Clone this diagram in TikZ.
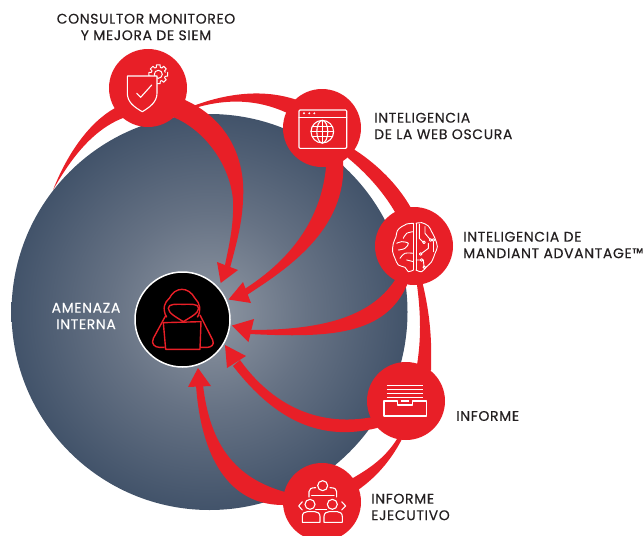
\documentclass[tikz,border=0pt]{standalone}
\usepackage{fontspec}
\setmainfont{Poppins}[FakeBold=0.35,LetterSpace=4.5]
\usetikzlibrary{calc}
\definecolor{brandred}{HTML}{E81F27}
\definecolor{inkdark}{HTML}{231F20}
\definecolor{sphA}{HTML}{8F97A3}
\definecolor{sphB}{HTML}{667284}
\definecolor{sphC}{HTML}{42536A}
\pgfdeclareradialshading{sphereshade}{\pgfpoint{0bp}{0bp}}{color(0bp)=(sphA); color(12.5bp)=(sphB); color(25bp)=(sphC); color(50bp)=(sphC)}
\tikzset{
  hub/.style={circle,fill=brandred,minimum size=78pt,inner sep=0pt},
  band/.style={fill=brandred},
  head/.style={fill=brandred},
  icon/.style={draw=white,line width=1.1pt,line join=round,line cap=round},
  hack/.style={draw=brandred,line width=1.4pt,line join=round},
  lbl/.style={inner sep=0pt,text=inkdark,font=\fontsize{14}{16.5}\selectfont},
  sm/.style={smooth,tension=0.6}
}
\begin{document}
\begin{tikzpicture}[x=1pt,y=-1pt]
\useasboundingbox (0,0) rectangle (644,535);
\clip (0,0) rectangle (644,535);
% sphere
\shade[shading=sphereshade] (209.5,312) circle[radius=198];
% hubs
\node[hub] (siem) at (148,88) {};
\node[hub] (web) at (322,128) {};
\node[hub] (brain) at (414,246) {};
\node[hub] (report) at (406,401) {};
\node[hub] (exec) at (322,502) {};
\node[circle,fill=black,draw=white,line width=1.5pt,minimum size=95pt,inner sep=0pt] (core) at (182.5,319.5) {};
% ring crescents
\fill[band] (siem.center) -- (115,108) .. controls (90,122) and (68,152) .. (53,190) .. controls (70,160) and (92,130) .. (123,118) -- cycle;
\fill[band] (siem.center) -- (193,106) .. controls (225,94) and (262,88) .. (297,100) -- (web.center) -- (285,112) .. controls (258,100) and (228,98) .. (195,108) -- cycle;
\fill[band] (web.center) -- (355,150) .. controls (378,165) and (398,185) .. (411,208) -- (brain.center) -- (395,212) .. controls (382,190) and (365,172) .. (348,158) -- cycle;
\fill[band] (brain.center) -- (423,285) .. controls (430,315) and (432,340) .. (431,370) -- (report.center) -- (417,365) .. controls (421,340) and (421,315) .. (417,285) -- cycle;
\fill[band] (report.center) -- (402,439) .. controls (390,462) and (375,478) .. (358,490) -- (exec.center) -- (353,478) .. controls (370,468) and (385,458) .. (397,439) -- cycle;
% inward bands
\fill[band] (siem.center) -- (185,100) .. controls (225,118) and (246,155) .. (243,200) .. controls (242,225) and (236,245) .. (230,268) -- (225,265) .. controls (229,245) and (234,225) .. (233,200) .. controls (230,165) and (205,130) .. (173,117) -- cycle;
\fill[band] (web.center) -- (343,160) .. controls (348,230) and (285,270) .. (247,295) -- (243,290) .. controls (275,270) and (320,232) .. (326,167) -- cycle;
\fill[band] (brain.center) -- (407,285) .. controls (385,335) and (330,338) .. (250,334) -- (250,330) .. controls (320,330) and (370,318) .. (395,280) -- cycle;
\fill[band] (report.center) -- (377,428) .. controls (320,442) and (275,420) .. (233,366) -- (240,360) .. controls (270,402) and (315,428) .. (373,417) -- cycle;
\fill[band] (exec.center) -- (285,492) .. controls (235,478) and (210,445) .. (203,385) -- (196,385) .. controls (200,445) and (222,505) .. (283,505) -- cycle;
% arrowheads
\coordinate (tipA) at (220.7,283);
\coordinate (tipB) at (228.5,299.5);
\coordinate (tipC) at (232,325.5);
\coordinate (tipD) at (225,345);
\coordinate (tipE) at (198,368);
\fill[head] (tipA) -- (217,262) -- (238,270) -- cycle;
\fill[head] (tipB) -- (243,282) -- (251,303) -- cycle;
\fill[head] (tipC) -- (254,319) -- (248.5,342) -- cycle;
\fill[head] (tipD) -- (246,356) -- (227,368) -- cycle;
\fill[head] (tipE) -- (188,387) -- (211,386) -- cycle;
% hacker icon
\begin{scope}[shift={(120,260)},x=0.3333pt,y=-0.3333pt]
\draw[hack] (140,172) .. controls (125,145) and (135,125) .. (148,115) .. controls (165,80) and (205,78) .. (225,115) .. controls (240,130) and (245,150) .. (232,172);
\draw[hack] (190,185) .. controls (170,172) and (145,160) .. (145,145) .. controls (145,130) and (170,133) .. (190,133) .. controls (210,133) and (236,130) .. (236,145) .. controls (236,160) and (210,172) .. (190,185) -- cycle;
\draw[hack] (138,165) -- (100,235) .. controls (92,252) and (105,262) .. (118,262) -- (134,262);
\draw[hack] (240,165) -- (278,240) .. controls (285,255) and (272,262) .. (262,262) -- (243,262);
\draw[hack] (130,188) -- (243,185) -- (240,268) -- (137,268) -- cycle;
\end{scope}
% shield and gear
\begin{scope}[shift={(158.3,74.3)}]
\draw[icon,line width=1pt] (-11.25:9.6) \foreach \a in {0,45,...,315} { -- (\a-11.25:9.6) -- (\a+11.25:9.6) -- (\a+16:7.2) -- (\a+29:7.2) };
\draw[icon,line width=1pt] (0,0) circle[radius=4];
\end{scope}
\path[icon,fill=brandred,draw=white] (127.3,76) -- (157,76) -- (157,93) .. controls (157,102) and (150,107) .. (142.3,111.7) .. controls (134,107) and (127.3,102) .. (127.3,93) -- cycle;
\draw[icon] (136.7,93.3) -- (140.7,97.3) -- (151.7,85);
% browser icon
\draw[icon,rounded corners=1pt] (299,110) rectangle (346.7,148.3);
\draw[icon] (299,117.3) -- (346.7,117.3);
\fill[white] (304,113.3) circle[radius=1.1] (309.3,113.3) circle[radius=1.1] (314.3,113.3) circle[radius=1.1];
\begin{scope}[shift={(322.3,131.7)}]
\draw[icon] (0,0) circle[radius=11.3];
\draw[icon] (0,0) ellipse[x radius=5.5,y radius=11.3];
\draw[icon] (0,-11.3) -- (0,11.3);
\draw[icon] (-11.3,0) -- (11.3,0) (-9.8,-5.2) -- (9.8,-5.2) (-9.8,5.2) -- (9.8,5.2);
\end{scope}
% brain icon
\begin{scope}[shift={(380,210)},x=0.3333pt,y=-0.3333pt]
\tikzset{bicon/.style={icon,line width=0.9pt}}
\draw[bicon] plot[sm] coordinates {(100,40)(80,42)(65,50)(52,62)(48,80)(40,100)(38,125)(45,145)(55,165)(75,172)(85,185)(100,180)};
\draw[bicon] (100,40) -- (100,180) (108,40) -- (108,180);
\draw[bicon] plot[sm] coordinates {(100,65)(80,70)(70,85)};
\draw[bicon] plot[sm] coordinates {(50,100)(65,95)(85,100)(75,115)(55,120)};
\draw[bicon] plot[sm] coordinates {(100,130)(75,130)(60,145)};
\draw[bicon] plot[sm] coordinates {(100,155)(80,150)};
\draw[bicon] plot[sm] coordinates {(108,40)(125,38)(145,48)(155,65)(165,85)(172,110)(165,130)(155,155)(140,170)(125,185)(108,180)};
\draw[bicon] (118,42) -- (118,85) -- (130,97);
\draw[bicon] (135,50) -- (135,70) -- (150,88);
\draw[bicon] (160,95) -- (160,125);
\draw[bicon] (145,100) -- (145,115) -- (125,130);
\draw[bicon] (108,150) -- (120,150) (130,150) -- (132,170);
\draw[bicon] (132,97) circle[radius=4] (152,90) circle[radius=4] (160,90) circle[radius=4] (122,132) circle[radius=4] (125,150) circle[radius=4] (133,172) circle[radius=4];
\end{scope}
% tray icon
\begin{scope}[shift={(370,365)},x=0.3333pt,y=-0.3333pt]
\draw[icon,line cap=butt,line width=1.3pt] (50,62) -- (160,62) (50,73) -- (160,73) (50,85) -- (160,85) (50,97) -- (160,97);
\draw[icon] (42,108) -- (82,108) -- (82,120) -- (128,120) -- (128,108) -- (170,108) -- (170,153) -- (42,153) -- cycle;
\draw[icon] (94,108) -- (116,108);
\end{scope}
% people icon
\begin{scope}[shift={(285,465)},x=0.3333pt,y=-0.3333pt]
\draw[icon] (113,62) circle[radius=15] (75,118) circle[radius=15] (142,118) circle[radius=15];
\draw[icon] (52,172) -- (105,172) -- (105,155) .. controls (105,145) and (98,140) .. (90,140) -- (67,140) .. controls (58,140) and (52,145) .. (52,155) -- cycle;
\draw[icon] (117,172) -- (172,172) -- (172,155) .. controls (172,145) and (165,140) .. (157,140) -- (132,140) .. controls (124,140) and (117,145) .. (117,155) -- cycle;
\draw[icon] (72,96) -- (72,80) .. controls (72,72) and (78,68) .. (92,68);
\draw[icon] (155,96) -- (155,80) .. controls (155,72) and (149,68) .. (135,68);
\draw[icon] (80,92) -- (147,92) (92,133) -- (125,133);
\draw[icon] (52,110) -- (41,123) -- (52,135);
\draw[icon] (170,110) -- (182,123) -- (170,135);
\end{scope}
% labels
\node[lbl,align=center] (t1) at (146,27) {CONSULTOR MONITOREO\\Y MEJORA DE SIEM};
\node[lbl,align=left,anchor=west] (t2) at (374,126) {INTELIGENCIA\\DE LA WEB OSCURA};
\node[lbl,align=left,anchor=west] (t3) at (463,245) {INTELIGENCIA DE\\MANDIANT ADVANTAGE™};
\node[lbl,anchor=west] (t4) at (456,416) {INFORME};
\node[lbl,align=left,anchor=west] (t5) at (371,507) {INFORME\\EJECUTIVO};
\node[lbl,align=center,text=white] (t6) at (86,316) {AMENAZA\\INTERNA};
\end{tikzpicture}
\end{document}
